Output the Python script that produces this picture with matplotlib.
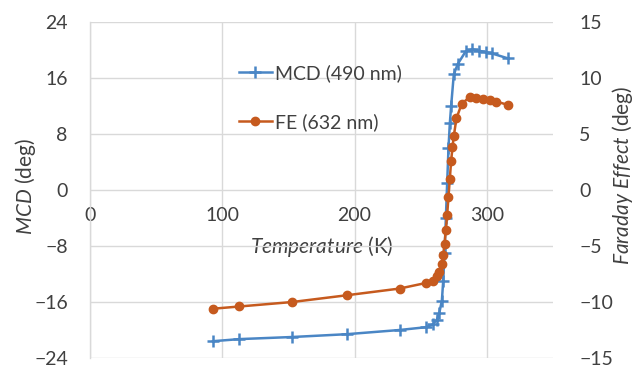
import numpy as np
import matplotlib
matplotlib.use('Agg')
import matplotlib.pyplot as plt

plt.rcParams['font.family'] = ['Lato', 'DejaVu Sans']
plt.rcParams['mathtext.fontset'] = 'custom'
plt.rcParams['mathtext.it'] = 'Lato:italic'
plt.rcParams['mathtext.rm'] = 'Lato'

# MCD (490 nm), left axis
mcd_T = [93, 113, 153, 194, 234, 254, 259, 262, 264, 266, 267, 268, 269, 270,
         271, 272, 273, 275, 278, 284, 289, 294, 299, 304, 316]
mcd = [-21.6, -21.3, -21.0, -20.6, -20.0, -19.6, -19.2, -18.6, -17.6, -15.8,
       -13.0, -9.0, -4.0, 1.0, 6.0, 9.5, 12.0, 16.5, 18.0, 19.8, 20.1, 19.9,
       19.7, 19.5, 18.8]

# Faraday effect (632 nm), right axis
fe_T = [93, 113, 153, 194, 234, 254, 259, 262, 264, 266, 267, 268, 269, 270,
        271, 272, 273, 274, 275, 277, 281, 287, 292, 297, 302, 307, 316]
fe = [-10.6, -10.4, -10.0, -9.4, -8.8, -8.3, -8.1, -7.7, -7.3, -6.6, -5.8,
      -4.8, -3.6, -2.2, -0.6, 1.0, 2.6, 3.8, 4.8, 6.4, 7.7, 8.3, 8.2, 8.1,
      8.0, 7.9, 7.6]

x_ticks = [0, 100, 200, 300]
left_ticks = [-24, -16, -8, 0, 8, 16, 24]
right_ticks = [-15, -10, -5, 0, 5, 10, 15]

blue = '#4A86C5'
orange = '#C65A1E'
grid = '#D9D9D9'
txt = '#404040'

fig = plt.figure(figsize=(6.36, 3.69), dpi=100)
ax = fig.add_axes([90 / 636, 1 - 358 / 369, (553 - 90) / 636, (358 - 22) / 369])
ax2 = ax.twinx()

ax.set_xlim(0, 350)
ax.set_ylim(-24, 24)
ax2.set_ylim(-15, 15)
ax.set_xticks(x_ticks)
ax.set_yticks(left_ticks)
ax2.set_yticks(right_ticks)

ax.grid(True, color=grid, linewidth=1)
ax.set_axisbelow(True)
for s in ['top', 'right', 'bottom']:
    ax.spines[s].set_visible(False)
    ax2.spines[s].set_visible(False)
ax2.spines['left'].set_visible(False)
ax.spines['left'].set_color(grid)
ax.spines['left'].set_linewidth(1)

ax.tick_params(axis='both', length=0, labelsize=14, labelcolor=txt)
ax.tick_params(axis='x', pad=12)
ax.tick_params(axis='y', pad=16)
ax2.tick_params(axis='y', length=0, labelsize=14, labelcolor=txt, pad=19)
# x labels sit under the zero line
ax.spines['bottom'].set_position(('data', 0))

ax.plot(mcd_T, mcd, color=blue, linewidth=1.8, marker='+', markersize=8,
        markeredgewidth=1.8, label='MCD (490 nm)')
ax.plot([], [], color=orange, linewidth=1.8, marker='o', markersize=6,
        label='FE (632 nm)')
ax2.plot(fe_T, fe, color=orange, linewidth=1.8, marker='o', markersize=6)

ax.set_ylabel(r'$\mathit{MCD}$ (deg)', fontsize=15, color=txt)
ax.yaxis.set_label_coords(-0.112, 0.51)
ax2.set_ylabel(r'$\mathit{Faraday\ Effect}$ (deg)', fontsize=15, color=txt)
ax2.yaxis.set_label_coords(1.123, 0.545)
ax.set_xlabel(r'$\mathit{Temperature}$ (K)', fontsize=15, color=txt)
ax.xaxis.set_label_coords(0.5, 0.37)

ax.legend(loc='upper left', bbox_to_anchor=(0.283, 0.927), frameon=False,
          fontsize=14, handlelength=1.7, handletextpad=0.2, labelspacing=1.6,
          labelcolor=txt)

fig.savefig('out.png', dpi=100)
